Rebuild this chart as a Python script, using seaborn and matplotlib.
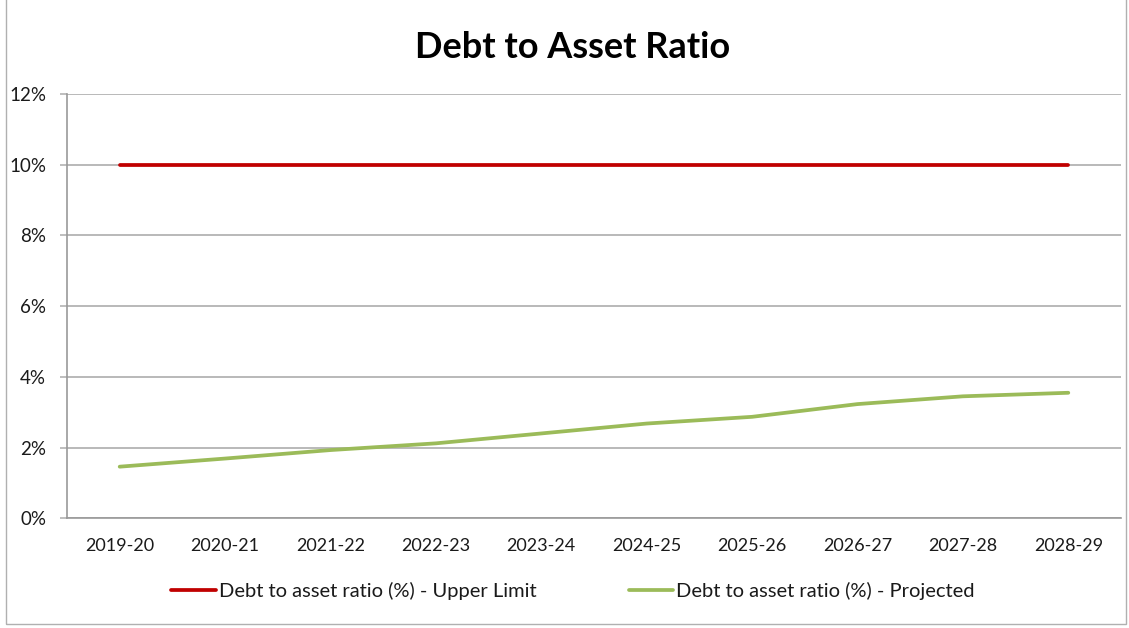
import matplotlib
matplotlib.use("Agg")
import matplotlib.pyplot as plt
import matplotlib.ticker as mticker
from matplotlib.patches import Rectangle
from matplotlib.lines import Line2D
import seaborn as sns
import pandas as pd
import numpy as np

# Financial years and ratio series (in %)
years = ["2019-20", "2020-21", "2021-22", "2022-23", "2023-24",
         "2024-25", "2025-26", "2026-27", "2027-28", "2028-29"]
upper_limit = [10, 10, 10, 10, 10, 10, 10, 10, 10, 10]
projected = [1.46, 1.69, 1.93, 2.12, 2.40, 2.68, 2.87, 3.23, 3.45, 3.55]

label_limit = "Debt to asset ratio (%) - Upper Limit"
label_proj = "Debt to asset ratio (%) - Projected"

df = pd.concat([
    pd.DataFrame({"year": years, "value": upper_limit, "series": label_limit}),
    pd.DataFrame({"year": years, "value": projected, "series": label_proj}),
], ignore_index=True)

sns.set_style("white")
plt.rcParams["font.family"] = ["Lato", "DejaVu Sans"]
plt.rcParams["text.color"] = "black"

fig = plt.figure(figsize=(11.29, 6.28), dpi=100)
ax = fig.add_axes([67 / 1129, 1 - 518.3 / 628, (1121 - 67) / 1129, (518.3 - 94) / 628])

palette = {label_limit: "#C00000", label_proj: "#9BBB59"}
sns.lineplot(data=df, x="year", y="value", hue="series", palette=palette,
             linewidth=2.7, sort=False, ax=ax, legend=False, zorder=3)

ax.set_xlim(-0.5, len(years) - 0.5)
ax.set_ylim(0, 12)
ax.yaxis.set_major_locator(mticker.MultipleLocator(2))
ax.yaxis.set_major_formatter(mticker.FuncFormatter(lambda v, _: f"{v:.0f}%"))
ax.grid(axis="y", color="#b3b3b3", linewidth=1.3)
ax.set_axisbelow(True)

ax.set_xticks(range(len(years)))
ax.set_xticklabels(years)
ax.set_xticks(np.arange(-0.5, len(years)), minor=True)
ax.tick_params(axis="x", which="major", length=0, pad=14, labelsize=13,
               labelcolor="#1a1a1a")
ax.tick_params(axis="x", which="minor", length=5, width=1.2, color="#999999", direction="out")
ax.tick_params(axis="y", which="major", length=5, width=1.2, color="#b3b3b3",
               labelsize=13.5, pad=10, left=True, labelcolor="#1a1a1a")
ax.set_xlabel("")
ax.set_ylabel("")

for side in ["top", "right"]:
    ax.spines[side].set_visible(False)
for side in ["left", "bottom"]:
    ax.spines[side].set_color("#999999")
    ax.spines[side].set_linewidth(1.2)

fig.text(573 / 1129, 1 - 48 / 628, "Debt to Asset Ratio", ha="center", va="center",
         fontsize=26, fontweight="bold", color="black")

handles = [Line2D([], [], color="#C00000", linewidth=2.7),
           Line2D([], [], color="#9BBB59", linewidth=2.7)]
fig.legend(handles, [label_limit, label_proj], loc="center",
           bbox_to_anchor=(573 / 1129, 1 - 591 / 628), ncol=2, frameon=False,
           fontsize=14.5, handlelength=2.2, handletextpad=0.15, columnspacing=4.6,
           labelcolor="#1a1a1a")

# Chart-area border
fig.patches.append(Rectangle((5.5 / 1129, 4 / 628), (1126 - 5.5) / 1129, 1.0,
                             transform=fig.transFigure, fill=False,
                             edgecolor="#b0b0b0", linewidth=1.0))

fig.savefig("out.png", dpi=100)
